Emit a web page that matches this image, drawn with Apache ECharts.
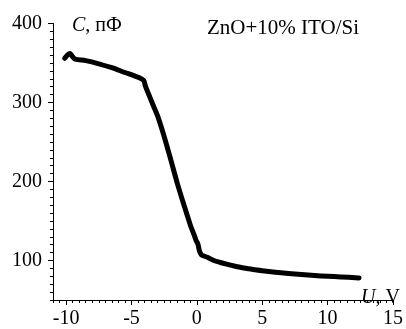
<!DOCTYPE html>
<html>
<head>
<meta charset="utf-8">
<script src="https://cdn.jsdelivr.net/npm/echarts@6/dist/echarts.min.js"></script>
<style>
  html, body { margin: 0; padding: 0; background: #fff; }
  #cv-chart { width: 406px; height: 329px; overflow: hidden; }
</style>
</head>
<body>
<div id="cv-chart"></div>
<script>
// напряжение смещения, В
const voltage = [-10.1, -9.9, -9.7, -9.5, -9.3, -8.5, -7.5, -6.5, -5.5, -4.5,
  -4.07, -3.94, -3.7, -3.3, -3.0, -2.5, -2.0, -1.5, -1.0, -0.5,
  -0.2, -0.05, 0.08, 0.2, 0.35, 0.5, 0.8, 1.3, 1.8, 2.5,
  3.1, 4.0, 5.0, 6.0, 7.0, 8.0, 9.0, 10.0, 11.0, 12.4];
// ёмкость, пФ
const capacitance = [356, 360, 362, 358, 355, 353, 349, 344, 338, 332,
  328, 321, 311, 295, 283, 257, 228, 198, 171, 145,
  132, 125, 121, 112, 107, 106, 104, 100, 97.5, 94.5,
  92, 89.5, 87, 85, 83.5, 82.3, 81, 80, 79.2, 78];

const xTicks = [-10, -5, 0, 5, 10, 15];
const yTicks = [100, 200, 300, 400];

const chart = echarts.init(document.getElementById('cv-chart'));
const font = 'Liberation Serif, Times New Roman, serif';
const black = '#000';

const points = voltage.map((v, i) => [v, capacitance[i]]);

// основная ось: линия, крупные штрихи и подписи
function mainAxis(min, max, ticks, margin) {
  return {
    type: 'value', min: min, max: max,
    axisLine: { show: true, onZero: false, lineStyle: { color: black, width: 1 } },
    axisTick: { show: true, inside: false, length: 5, customValues: ticks, lineStyle: { color: black } },
    splitLine: { show: false },
    axisLabel: { color: black, fontFamily: font, fontSize: 20, margin: margin, customValues: ticks }
  };
}
// вспомогательная ось только для мелких штрихов
function minorAxis(min, max, step, pos) {
  return {
    type: 'value', min: min, max: max, interval: step, position: pos,
    axisLine: { show: false, onZero: false },
    axisTick: { show: true, inside: false, length: 3, lineStyle: { color: black } },
    splitLine: { show: false },
    axisLabel: { show: false }
  };
}

const option = {
  backgroundColor: '#fff',
  animation: false,
  grid: { left: 53, right: 9, top: 23.5, bottom: 23, containLabel: false },
  xAxis: [
    Object.assign(mainAxis(-11, 15, xTicks, 9), { position: 'bottom' }),
    minorAxis(-11, 15, 0.5, 'bottom')
  ],
  yAxis: [
    Object.assign(mainAxis(50, 400, yTicks, 11), { position: 'left' }),
    minorAxis(50, 400, 10, 'left')
  ],
  graphic: [
    {
      type: 'text', left: 72, top: 16,
      style: {
        text: '{i|C}, пФ', fill: black, font: '20px ' + font,
        rich: { i: { fontStyle: 'italic', fontSize: 20, fontFamily: font } }
      }
    },
    {
      type: 'text', left: 207, top: 18,
      style: { text: 'ZnO+10% ITO/Si', fill: black, font: '21px ' + font }
    },
    {
      type: 'text', left: 361, top: 288,
      style: {
        text: '{i|U}, V', fill: black, font: '20px ' + font,
        rich: { i: { fontStyle: 'italic', fontSize: 20, fontFamily: font } }
      }
    }
  ],
  series: [
    {
      type: 'line',
      xAxisIndex: 0, yAxisIndex: 0,
      data: points,
      showSymbol: false,
      smooth: 0.3,
      lineStyle: { color: black, width: 5, cap: 'round', join: 'round' }
    }
  ]
};
chart.setOption(option);
</script>
</body>
</html>
